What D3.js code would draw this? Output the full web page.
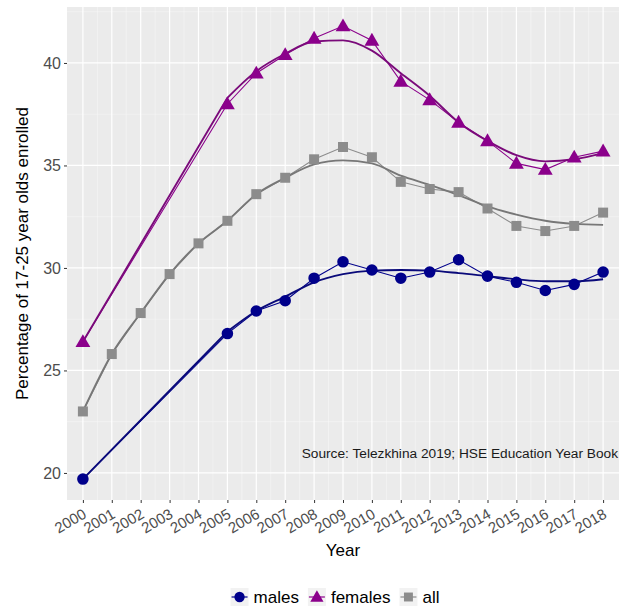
<!DOCTYPE html>
<html>
<head>
<meta charset="utf-8">
<script src="https://cdn.jsdelivr.net/npm/d3@7"></script>
<style>
  html, body { margin: 0; padding: 0; background: #ffffff; }
  svg { display: block; font-family: "Liberation Sans", Arial, sans-serif; }
</style>
</head>
<body>
<svg id="chart" width="623" height="607"></svg>
<script>
// ---- data ----
const years = [2000, 2001, 2002, 2003, 2004, 2005, 2006, 2007, 2008, 2009,
               2010, 2011, 2012, 2013, 2014, 2015, 2016, 2017, 2018];
const males = [19.7, null, null, null, null, 26.8, 27.9, 28.4, 29.5, 30.3,
               29.9, 29.5, 29.8, 30.4, 29.6, 29.3, 28.9, 29.2, 29.8];
const females = [26.4, null, null, null, null, 38.0, 39.5, 40.4, 41.2, 41.8,
                 41.1, 39.1, 38.2, 37.1, 36.2, 35.1, 34.8, 35.4, 35.7];
const allStudents = [23.0, 25.8, 27.8, 29.7, 31.2, 32.3, 33.6, 34.4, 35.3, 35.9,
                     35.4, 34.2, 33.85, 33.7, 32.9, 32.05, 31.8, 32.05, 32.7];
// smoothed (loess) curves, read at each year
const malesSmooth = [19.7, null, null, null, null, 26.9, 27.9, 28.6, 29.3, 29.7,
                     29.87, 29.9, 29.87, 29.75, 29.6, 29.45, 29.35, 29.35, 29.45];
const femalesSmooth = [26.4, null, null, null, null, 38.3, 39.6, 40.45, 41.05, 41.1,
                       40.6, 39.5, 38.4, 37.1, 36.2, 35.5, 35.2, 35.3, 35.6];
const allSmooth = [23.0, 25.8, 27.8, 29.7, 31.2, 32.3, 33.6, 34.4, 35.05, 35.25,
                   35.1, 34.5, 34.05, 33.55, 33.0, 32.6, 32.3, 32.15, 32.1];
const seriesNames = ["males", "females", "all"];
const yTicks = [20, 25, 30, 35, 40];
const yMinor = [22.5, 27.5, 32.5, 37.5, 42.5];
const sourceNote = "Source: Telezkhina 2019; HSE Education Year Book";

// ---- styles ----
const colors = { males: "#00008B", females: "#8B008B", all: "#8c8c8c" };
const smoothColors = { males: "#0a0a7a", females: "#7a0a7a", all: "#777777" };

const svg = d3.select("#chart");
const panel = { left: 67, right: 619, top: 7, bottom: 500 };

const x = d3.scaleLinear().domain([1999.45, 2018.55]).range([panel.left, panel.right]);
const y = d3.scaleLinear().domain([18.68, 42.73]).range([panel.bottom, panel.top]);

// panel background
svg.append("rect")
  .attr("x", panel.left).attr("y", panel.top)
  .attr("width", panel.right - panel.left).attr("height", panel.bottom - panel.top)
  .attr("fill", "#EBEBEB");

const grid = svg.append("g");
// minor grid
grid.selectAll(".ymin").data(yMinor.filter(v => y(v) >= panel.top)).enter().append("line")
  .attr("x1", panel.left).attr("x2", panel.right)
  .attr("y1", d => y(d)).attr("y2", d => y(d))
  .attr("stroke", "#F7F7F7").attr("stroke-width", 0.6);
const xMinor = years.slice(0, -1).map(v => v + 0.5);
grid.selectAll(".xmin").data(xMinor).enter().append("line")
  .attr("y1", panel.top).attr("y2", panel.bottom)
  .attr("x1", d => x(d)).attr("x2", d => x(d))
  .attr("stroke", "#F7F7F7").attr("stroke-width", 0.6);
// major grid
grid.selectAll(".ymaj").data(yTicks).enter().append("line")
  .attr("x1", panel.left).attr("x2", panel.right)
  .attr("y1", d => y(d)).attr("y2", d => y(d))
  .attr("stroke", "#ffffff").attr("stroke-width", 1.2);
grid.selectAll(".xmaj").data(years).enter().append("line")
  .attr("y1", panel.top).attr("y2", panel.bottom)
  .attr("x1", d => x(d)).attr("x2", d => x(d))
  .attr("stroke", "#ffffff").attr("stroke-width", 1.2);

// axes
const yAxis = d3.axisLeft(y).tickValues(yTicks).tickSize(3).tickPadding(3);
const gy = svg.append("g").attr("transform", `translate(${panel.left},0)`).call(yAxis);
gy.select(".domain").remove();
gy.selectAll(".tick line").attr("stroke", "#333333");
gy.selectAll(".tick text").attr("fill", "#4D4D4D").attr("font-size", "16px")
  .attr("font-family", "Liberation Sans, Arial, sans-serif");

const xAxis = d3.axisBottom(x).tickValues(years).tickFormat(d3.format("d")).tickSize(3);
const gx = svg.append("g").attr("transform", `translate(0,${panel.bottom})`).call(xAxis);
gx.select(".domain").remove();
gx.selectAll(".tick line").attr("stroke", "#333333");
gx.selectAll(".tick text")
  .attr("fill", "#4D4D4D").attr("font-size", "15px")
  .attr("font-family", "Liberation Sans, Arial, sans-serif")
  .attr("text-anchor", "end")
  .attr("dy", null).attr("y", 0)
  .attr("transform", "translate(4,17) rotate(-30)");

// axis titles
svg.append("text").attr("x", (panel.left + panel.right) / 2).attr("y", 556)
  .attr("text-anchor", "middle").attr("font-size", "17px").attr("fill", "#000")
  .text("Year");
svg.append("text")
  .attr("transform", `translate(28,${(panel.top + panel.bottom) / 2}) rotate(-90)`)
  .attr("text-anchor", "middle").attr("font-size", "17px").attr("fill", "#000")
  .text("Percentage of 17-25 year olds enrolled");

// series
const valuesBy = { males: males, females: females, all: allStudents };
const smoothBy = { males: malesSmooth, females: femalesSmooth, all: allSmooth };
const toPts = arr => years.map((yr, i) => ({ yr, v: arr[i] })).filter(d => d.v !== null);

const lineStraight = d3.line().x(d => x(d.yr)).y(d => y(d.v));
const lineCurve = d3.line().x(d => x(d.yr)).y(d => y(d.v)).curve(d3.curveMonotoneX);
// smooth path: straight across the data gap, curved where yearly values exist
function smoothPath(pts) {
  let start = 0;
  for (let i = 1; i < pts.length; i++) { if (pts[i].yr - pts[i - 1].yr > 1) start = i; }
  const head = pts.slice(0, start + 1);
  const tail = pts.slice(start);
  const curved = lineCurve(tail);
  if (head.length < 2) return curved;
  return lineStraight(head) + "L" + curved.slice(1);
}

const plot = svg.append("g");
seriesNames.forEach(s => {
  plot.append("path").datum(toPts(valuesBy[s]))
    .attr("d", lineStraight).attr("fill", "none")
    .attr("stroke", colors[s]).attr("stroke-width", 1.1);
});
seriesNames.forEach(s => {
  plot.append("path").datum(toPts(smoothBy[s]))
    .attr("d", smoothPath).attr("fill", "none")
    .attr("stroke", smoothColors[s]).attr("stroke-width", 1.9);
});

const symbolFor = { males: d3.symbolCircle, females: d3.symbolTriangle, all: d3.symbolSquare };
const sizeFor = { males: 105, females: 95, all: 100 };
seriesNames.forEach(s => {
  const sym = d3.symbol().type(symbolFor[s]).size(sizeFor[s]);
  plot.selectAll(null).data(toPts(valuesBy[s])).enter().append("path")
    .attr("d", sym)
    .attr("transform", d => `translate(${x(d.yr)},${y(d.v) + (s === "females" ? 1 : 0)})`)
    .attr("fill", colors[s]);
});

// source note
svg.append("text").attr("x", 618).attr("y", 458)
  .attr("text-anchor", "end").attr("font-size", "13.7px").attr("fill", "#1a1a1a")
  .text(sourceNote);

// legend
const legend = svg.append("g");
const legendY = 597;
let cursor = 229;
seriesNames.forEach(s => {
  const g = legend.append("g").attr("transform", `translate(${cursor},${legendY})`);
  g.append("rect").attr("x", -9).attr("y", -9).attr("width", 18).attr("height", 18).attr("fill", "#F2F2F2");
  g.append("line").attr("x1", -8).attr("x2", 8).attr("y1", 0).attr("y2", 0)
    .attr("stroke", colors[s]).attr("stroke-width", 1.2);
  g.append("path").attr("d", d3.symbol().type(symbolFor[s]).size(sizeFor[s] * 0.8)())
    .attr("transform", s === "females" ? "translate(0,1)" : null)
    .attr("fill", colors[s]);
  const t = g.append("text").attr("x", 14).attr("y", 6).attr("font-size", "17px")
    .attr("fill", "#000").text(s);
  cursor += 14 + t.node().getComputedTextLength() + 18;
});
// center the legend
const bb = legend.node().getBBox();
const shift = 335 - (bb.x + bb.width / 2);
legend.attr("transform", `translate(${shift},0)`);
</script>
</body>
</html>
